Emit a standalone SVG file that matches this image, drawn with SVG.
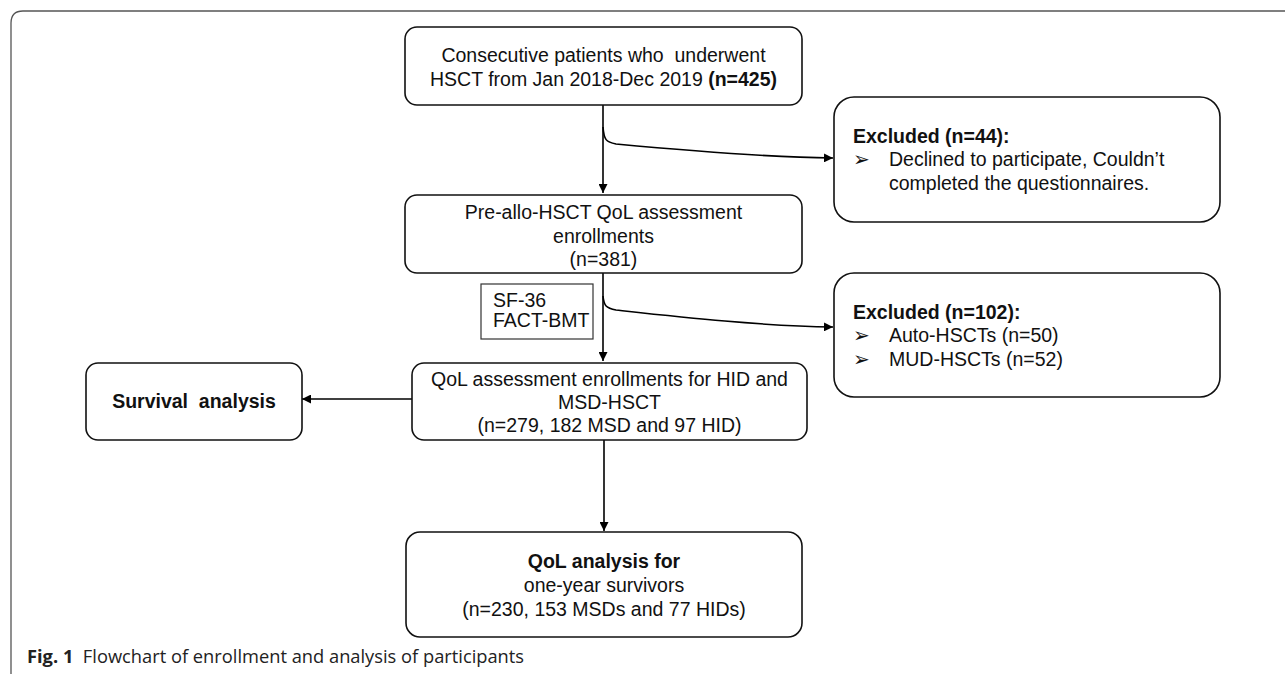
<svg xmlns="http://www.w3.org/2000/svg" width="1285" height="674" viewBox="0 0 1285 674">
<defs>
<marker id="arr" viewBox="0 0 10 10" refX="10" refY="5" markerWidth="9" markerHeight="9" markerUnits="userSpaceOnUse" orient="auto">
<path d="M0,0 L10,5 L0,10 z" fill="#000"/>
</marker>
<style>
.box{fill:#fff;stroke:#111;stroke-width:1.6}
.t{font-family:"Liberation Sans",Arial,sans-serif;font-size:19.5px;fill:#111}
.c{text-anchor:middle}
.b{font-weight:bold}
.con{fill:none;stroke:#000;stroke-width:1.6}
.cap{font-family:"Open Sans","Noto Sans",sans-serif;font-size:18.3px;fill:#222}
</style>
</defs>
<rect width="1285" height="674" fill="#fff"/>
<path d="M11,674 V23 Q11,11 23,11 H1285" fill="none" stroke="#555" stroke-width="1.3"/>

<g id="connectors">
<line class="con" x1="603" y1="105" x2="603" y2="193" marker-end="url(#arr)"/>
<path class="con" d="M603,127 C604,140 606,142 616,144 C680,150 760,157 833,158" marker-end="url(#arr)"/>
<line class="con" x1="603" y1="273" x2="603" y2="361" marker-end="url(#arr)"/>
<path class="con" d="M603,296 C604,306 606,308 616,310 C680,317 760,326 833,327" marker-end="url(#arr)"/>
<line class="con" x1="412" y1="399" x2="302" y2="399" marker-end="url(#arr)"/>
<line class="con" x1="604" y1="440" x2="604" y2="531" marker-end="url(#arr)"/>
</g>

<g id="n1">
<rect class="box" x="405" y="27" width="397" height="78" rx="12"/>
<text class="t c" x="603.5" y="62" xml:space="preserve">Consecutive patients who  underwent</text>
<text class="t c" x="603.5" y="86">HSCT from Jan 2018-Dec 2019 <tspan class="b">(n=425)</tspan></text>
</g>

<g id="excl1">
<rect class="box" x="834" y="97" width="386" height="125" rx="20"/>
<text class="t b" x="853" y="143">Excluded (n=44):</text>
<text class="t" x="853" y="166" font-size="16">➢</text>
<text class="t" x="889" y="166">Declined to participate, Couldn’t</text>
<text class="t" x="889" y="190">completed the questionnaires.</text>
</g>

<g id="n2">
<rect class="box" x="405" y="195" width="397" height="78" rx="12"/>
<text class="t c" x="603.5" y="219">Pre-allo-HSCT QoL assessment</text>
<text class="t c" x="603.5" y="243">enrollments</text>
<text class="t c" x="603.5" y="266">(n=381)</text>
</g>

<g id="sf">
<rect x="481" y="284" width="112" height="55" fill="#fff" stroke="#333" stroke-width="1.2"/>
<text class="t" x="493" y="307" font-size="16.5">SF-36</text>
<text class="t" x="493" y="327" font-size="16.5">FACT-BMT</text>
</g>

<g id="excl2">
<rect class="box" x="834" y="273" width="386" height="124" rx="20"/>
<text class="t b" x="853" y="319">Excluded (n=102):</text>
<text class="t" x="853" y="342" font-size="16">➢</text>
<text class="t" x="889" y="342">Auto-HSCTs (n=50)</text>
<text class="t" x="853" y="366" font-size="16">➢</text>
<text class="t" x="889" y="366">MUD-HSCTs (n=52)</text>
</g>

<g id="n3">
<rect class="box" x="412" y="363" width="395" height="77" rx="12"/>
<text class="t c" x="609.5" y="386">QoL assessment enrollments for HID and</text>
<text class="t c" x="609.5" y="409">MSD-HSCT</text>
<text class="t c" x="609.5" y="432">(n=279, 182 MSD and 97 HID)</text>
</g>

<g id="surv">
<rect class="box" x="86" y="363" width="216" height="77" rx="12"/>
<text class="t b c" x="194" y="408" font-size="19" xml:space="preserve">Survival  analysis</text>
</g>

<g id="n4">
<rect class="box" x="406" y="532" width="396" height="105" rx="14"/>
<text class="t b c" x="604" y="568">QoL analysis for</text>
<text class="t c" x="604" y="592">one-year survivors</text>
<text class="t c" x="604" y="616">(n=230, 153 MSDs and 77 HIDs)</text>
</g>

<text class="cap" x="27" y="663" xml:space="preserve"><tspan font-weight="bold">Fig. 1</tspan>  Flowchart of enrollment and analysis of participants</text>
</svg>
